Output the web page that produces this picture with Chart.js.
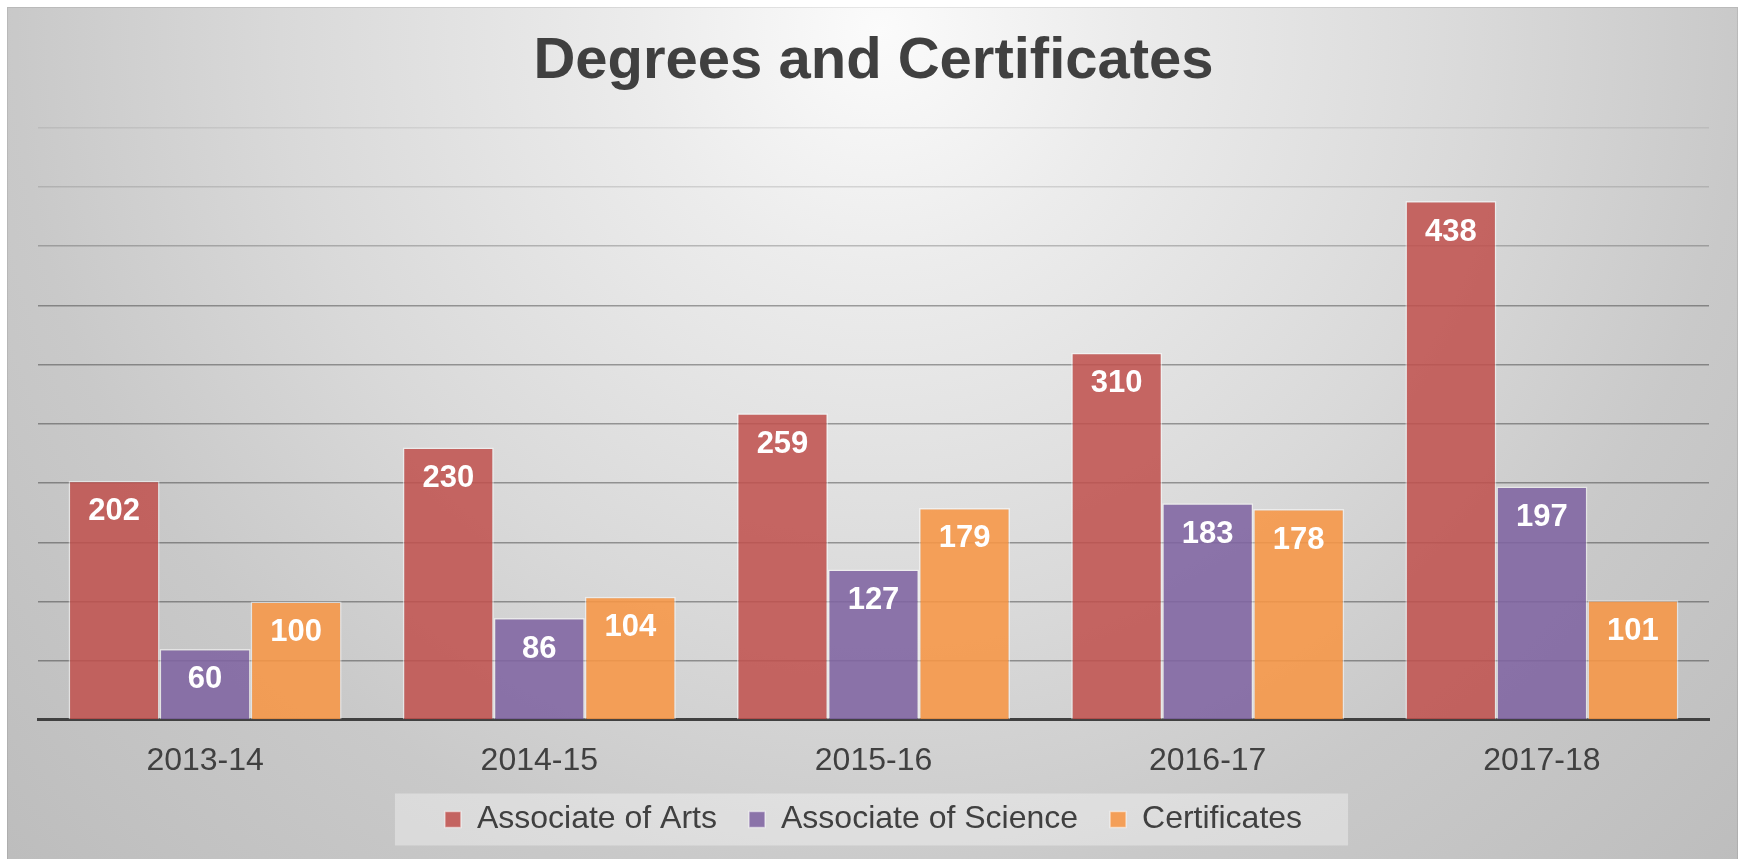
<!DOCTYPE html>
<html>
<head>
<meta charset="utf-8">
<script src="https://cdn.jsdelivr.net/npm/chart.js@4.4.1/dist/chart.umd.min.js"></script>
<style>
    html, body { margin:0; padding:0; background:#ffffff; }
    #wrap { width:1741px; height:859px; }
</style>
</head>
<body>
<div id="wrap">
    <canvas id="graficoGraus" width="1741" height="859"></canvas>
</div>

<script>

// =====================================
// DADOS
// =====================================

const anos = ["2013-14","2014-15","2015-16","2016-17","2017-18"];

const associateArts = [202,230,259,310,438];
const associateScience = [60,86,127,183,197];
const certificates = [100,104,179,178,101];

const eixoMax = 500;
const eixoPasso = 50;

const fonte = "'Liberation Sans', Arial, sans-serif";
const corTexto = "#404040";


// =====================================
// FUNDO (gradiente + caixa da legenda)
// =====================================

const fundoPlugin = {

    id:"fundo",

    beforeDraw(chart){

        const c = chart.ctx;
        const w = chart.width;
        const h = chart.height;

        c.save();

        c.fillStyle = "#ffffff";
        c.fillRect(0,0,w,h);

        const g = c.createRadialGradient(880,30,0,880,30,1200);
        g.addColorStop(0,"#fbfbfb");
        g.addColorStop(0.2,"#ececec");
        g.addColorStop(0.5,"#d9d9d9");
        g.addColorStop(0.72,"#c9c9c9");
        g.addColorStop(1,"#bdbdbd");

        c.fillStyle = g;
        c.fillRect(7,7,w-10,h-7);

        c.strokeStyle = "rgba(0,0,0,0.08)";
        c.lineWidth = 1;
        c.strokeRect(7.5,7.5,w-11,h);

        // caixa clara atras da legenda
        const boxes = chart.legend && chart.legend.legendHitBoxes;

        if(boxes && boxes.length){

            const esq = Math.min(...boxes.map(b=>b.left)) - 50;
            const dir = Math.max(...boxes.map(b=>b.left+b.width)) + 46;
            const topo = boxes[0].top + boxes[0].height/2 - 26;

            c.fillStyle = "rgba(255,255,255,0.35)";
            c.fillRect(esq,topo,dir-esq,52);

        }

        c.restore();

    }

};


// =====================================
// RÓTULOS DAS BARRAS
// =====================================

const rotulosPlugin = {

    id:"rotulos",

    afterDatasetsDraw(chart){

        const c = chart.ctx;

        c.save();

        c.fillStyle = "#ffffff";
        c.font = "bold 31px " + fonte;
        c.textAlign = "center";
        c.textBaseline = "middle";

        chart.data.datasets.forEach((ds,i)=>{

            const meta = chart.getDatasetMeta(i);

            meta.data.forEach((bar,j)=>{

                c.fillText(
                    String(ds.data[j]),
                    bar.x,
                    bar.y + 31
                );

            });

        });

        c.restore();

    }

};


// =====================================
// GRAFICO
// =====================================

const ctx = document.getElementById("graficoGraus");

const grafico = new Chart(ctx,{

    type:"bar",

    data:{

        labels:anos,

        datasets:[

            {
                label:"Associate of Arts",
                data:associateArts,
                backgroundColor:"rgba(192,80,77,0.86)",
                borderColor:"rgba(255,255,255,0.5)",
                borderWidth:1.5
            },

            {
                label:"Associate of Science",
                data:associateScience,
                backgroundColor:"rgba(128,100,162,0.88)",
                borderColor:"rgba(255,255,255,0.5)",
                borderWidth:1.5
            },

            {
                label:"Certificates",
                data:certificates,
                backgroundColor:"rgba(247,150,70,0.88)",
                borderColor:"rgba(255,255,255,0.5)",
                borderWidth:1.5
            }

        ]

    },

    options:{

        responsive:false,
        animation:false,

        layout:{
            padding:{ top:7, left:38, right:32, bottom:13.5 }
        },

        datasets:{
            bar:{
                categoryPercentage:0.817,
                barPercentage:1
            }
        },

        plugins:{

            title:{
                display:true,
                text:"Degrees and Certificates",
                color:corTexto,
                font:{ family:fonte, size:58, weight:"bold" },
                padding:{ top:20, bottom:31 }
            },

            legend:{
                position:"bottom",
                labels:{
                    color:corTexto,
                    font:{ family:fonte, size:32 },
                    boxWidth:16,
                    boxHeight:16,
                    padding:32
                }
            },

            tooltip:{ enabled:false }

        },

        scales:{

            x:{
                grid:{
                    display:false,
                    drawTicks:true,
                    tickLength:30.9,
                    color:"rgba(0,0,0,0)"
                },
                border:{ display:true, color:"#404040", width:3 },
                ticks:{
                    color:corTexto,
                    font:{ family:fonte, size:32, lineHeight:0.644 },
                    padding:0
                }
            },

            y:{
                min:0,
                max:eixoMax,
                ticks:{ display:false, stepSize:eixoPasso },
                border:{ display:false },
                grid:{
                    drawTicks:false,
                    lineWidth:1.5,
                    color:(c)=>{
                        const v = c.tick ? c.tick.value : 0;
                        if(v >= 500) return "rgba(0,0,0,0.07)";
                        if(v >= 450) return "rgba(0,0,0,0.12)";
                        if(v >= 400) return "rgba(0,0,0,0.22)";
                        return "rgba(0,0,0,0.34)";
                    }
                }
            }

        }

    },

    plugins:[fundoPlugin,rotulosPlugin]

});

</script>
</body>
</html>
